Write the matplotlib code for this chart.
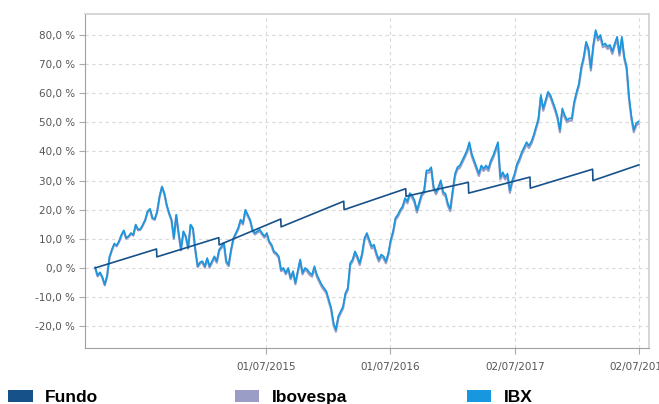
import matplotlib
matplotlib.use("Agg")
import matplotlib.pyplot as plt
from matplotlib.patches import Rectangle
from matplotlib.ticker import FuncFormatter
import pandas as pd

# weekly readings, % return since start
start = "2014-02-15"
ibx = [
    0.2, -2.6, -1.5, -3.1, -5.7, -2.6, 3.8, 6.3, 8.4, 7.7,
    9.2, 11.4, 12.9, 10.3, 10.9, 12.0, 11.4, 14.9, 13.2, 13.4,
    14.9, 16.6, 19.5, 20.3, 17.2, 16.8, 19.5, 24.6, 28.0, 25.7,
    21.7, 18.9, 16.6, 10.3, 18.3, 12.0, 6.3, 12.6, 10.9, 6.9,
    14.9, 13.7, 6.3, 0.6,
    2.0, 2.3, 0.6, 3.4, 0.6, 2.3, 4.0, 2.3, 6.3, 7.4,
    8.6, 2.3, 1.1, 6.3, 10.3, 12.0, 13.7, 16.6, 15.4, 20.0,
    18.3, 16.6, 13.2, 12.0, 12.6, 13.2, 12.0, 10.9, 12.0, 9.2,
    8.0, 5.7, 5.1, 4.0, -0.6, 0.0, -1.7, 0.0, -3.4, -1.1,
    -5.1, -1.1, 2.9, -1.7, 0.0,
    -0.6, -1.7, -2.3, 0.6, -2.3, -4.0, -5.7, -6.9, -8.0, -10.9,
    -13.7, -18.9, -21.2, -16.6, -14.9, -13.2, -8.6, -6.9, 1.7, 2.9,
    5.7, 4.0, 1.7, 5.1, 10.3, 12.0, 9.7, 7.4, 8.0, 5.1,
    2.9, 4.6, 4.0, 2.3, 5.1, 9.7, 12.6, 17.2, 18.3, 20.0,
    21.2, 24.0, 22.9, 25.7,
    24.9, 23.2, 19.8, 22.6, 25.5, 26.6, 33.5, 33.5, 34.6, 27.8,
    26.1, 27.8, 30.1, 26.1, 25.5, 22.1, 20.3, 26.6, 32.4, 34.6,
    35.2, 36.9, 38.6, 40.4, 43.2, 39.2, 36.9, 34.6, 32.4, 35.2,
    34.1, 35.2, 34.1, 36.9, 38.6, 40.9, 43.2, 31.2, 32.9, 31.2,
    32.4, 26.6, 30.1, 32.4, 35.8, 37.5, 39.8, 41.5, 43.2,
    42.0, 43.4, 45.7, 48.5, 51.4, 59.4, 54.8, 57.7, 60.5, 59.4,
    57.1, 54.8, 52.0, 47.4, 54.8, 52.5, 50.8, 51.4, 51.4, 57.1,
    60.5, 63.4, 69.1, 72.6, 77.7, 75.4, 68.6, 76.6, 81.7, 78.9,
    80.0, 76.6, 77.1, 76.0, 76.6, 74.3, 77.1, 79.4, 73.7, 79.4,
    72.6, 69.1, 58.8, 52.0, 47.4, 49.7, 50.3,
]
ibovespa = [
    -0.1, -2.9, -1.8, -3.4, -6.0, -2.9, 3.5, 6.0, 8.1, 7.4,
    8.9, 11.1, 12.6, 10.0, 10.6, 11.7, 11.1, 14.6, 12.9, 13.1,
    14.6, 16.3, 19.2, 20.0, 16.9, 16.5, 19.2, 24.3, 27.7, 25.4,
    21.4, 18.6, 16.3, 10.0, 18.0, 11.7, 6.0, 12.3, 10.6, 6.6,
    14.6, 13.4, 6.0, 0.3,
    1.5, 1.8, 0.1, 2.9, 0.1, 1.8, 3.5, 1.8, 5.8, 6.9,
    8.1, 1.8, 0.6, 5.8, 9.8, 11.5, 13.2, 16.1, 14.9, 19.5,
    17.8, 16.1, 12.7, 11.5, 12.1, 12.7, 11.5, 10.4, 11.5, 8.7,
    7.5, 5.2, 4.6, 3.5, -1.1, -0.5, -2.2, -0.5, -3.9, -1.6,
    -5.6, -1.6, 2.4, -2.2, -0.5,
    -1.3, -2.4, -3.0, -0.1, -3.0, -4.7, -6.4, -7.6, -8.7, -11.6,
    -14.4, -19.6, -21.9, -17.3, -15.6, -13.9, -9.3, -7.6, 1.0, 2.2,
    5.0, 3.3, 1.0, 4.4, 9.6, 11.3, 9.0, 6.7, 7.3, 4.4,
    2.2, 3.9, 3.3, 1.6, 4.4, 9.0, 11.9, 16.5, 17.6, 19.3,
    20.5, 23.3, 22.2, 25.0,
    24.1, 22.4, 19.0, 21.8, 24.7, 25.8, 32.7, 32.7, 33.8, 27.0,
    25.3, 27.0, 29.3, 25.3, 24.7, 21.3, 19.5, 25.8, 31.6, 33.8,
    34.4, 36.1, 37.8, 39.6, 42.4, 38.4, 36.1, 33.8, 31.6, 34.4,
    33.3, 34.4, 33.3, 36.1, 37.8, 40.1, 42.4, 30.4, 32.1, 30.4,
    31.6, 25.8, 29.3, 31.6, 35.0, 36.7, 39.0, 40.7, 42.4,
    41.2, 42.6, 44.9, 47.7, 50.6, 58.6, 54.0, 56.9, 59.7, 58.6,
    56.3, 54.0, 51.2, 46.6, 54.0, 51.7, 50.0, 50.6, 50.6, 56.3,
    59.7, 62.6, 68.3, 71.8, 76.9, 74.6, 67.8, 75.8, 80.9, 78.1,
    79.2, 75.8, 76.3, 75.2, 75.8, 73.5, 76.3, 78.6, 72.9, 78.6,
    71.8, 68.3, 58.0, 51.2, 46.6, 48.9, 49.5,
]

# fund: steady accrual with semiannual payouts
fundo_dates = [
    "2014-02-15", "2014-08-14", "2014-08-15", "2015-02-13", "2015-02-14",
    "2015-08-14", "2015-08-15", "2016-02-15", "2016-02-16", "2016-08-15",
    "2016-08-16", "2017-02-15", "2017-02-16", "2017-08-15", "2017-08-16",
    "2018-02-15", "2018-02-16", "2018-07-01",
]
fundo = [
    0.0, 6.5, 3.8, 10.4, 7.9,
    16.8, 14.1, 22.9, 20.0, 27.2,
    24.6, 29.4, 25.7, 31.2, 27.4,
    33.9, 30.0, 35.4,
]

tick_dates = ["2015-07-01", "2016-07-01", "2017-07-02", "2018-07-02"]
tick_labels = ["01/07/2015", "01/07/2016", "02/07/2017", "02/07/2018"]
yticks = [-20, -10, 0, 10, 20, 30, 40, 50, 60, 70, 80]

legend_names = ["Fundo", "Ibovespa", "IBX"]
c_fundo, c_ibov, c_ibx = "#17518a", "#9a9ec6", "#1896de"

dates = pd.date_range(start, periods=len(ibx), freq="7D")

fig = plt.figure(figsize=(6.59, 4.04), dpi=100)
ax = fig.add_axes([0.129, 0.1386, 0.856, 0.8267])

ax.plot(dates, ibovespa, color=c_ibov, lw=1.6)
ax.plot(dates, ibx, color=c_ibx, lw=1.2)
ax.plot(pd.to_datetime(fundo_dates), fundo, color=c_fundo, lw=1.2)

ax.set_xlim(pd.Timestamp("2014-01-16"), pd.Timestamp("2018-07-31"))
ax.set_ylim(-27.5, 87.2)
ax.set_yticks(yticks)
ax.yaxis.set_major_formatter(FuncFormatter(lambda v, p: f"{v:.1f} %".replace(".", ",")))
ax.set_xticks(pd.to_datetime(tick_dates))
ax.set_xticklabels(tick_labels)

ax.grid(True, color="#d9d9d9", ls=(0, (3, 3)), lw=0.8)
ax.set_axisbelow(True)
ax.tick_params(colors="#aaaaaa", labelcolor="#555555", labelsize=7.5, length=4)
ax.tick_params(axis="y", pad=3)
ax.tick_params(axis="x", pad=6)
for s in ["left", "bottom"]:
    ax.spines[s].set_color("#a0a0a0")
for s in ["top", "right"]:
    ax.spines[s].set_color("#d0d0d0")
    ax.spines[s].set_linewidth(1.2)

# legend along the bottom edge
for name, col, xs, xt in zip(legend_names, [c_fundo, c_ibov, c_ibx],
                             [0.0126, 0.3566, 0.7082], [0.0683, 0.4123, 0.7648]):
    fig.add_artist(Rectangle((xs, 0.0045), 0.037, 0.0297, transform=fig.transFigure,
                             color=col, lw=0))
    fig.text(xt, 0.0045, name, fontsize=12.5, fontweight="bold",
             family="Liberation Sans", va="baseline")

fig.savefig("out.png", dpi=100)
